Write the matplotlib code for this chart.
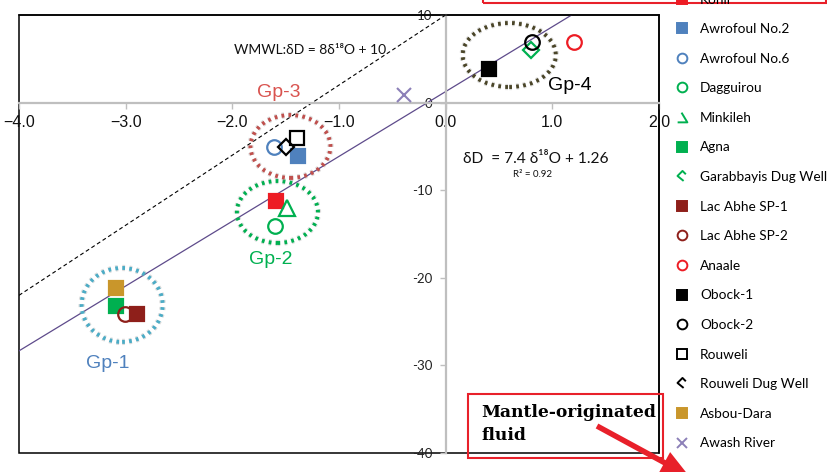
import matplotlib
matplotlib.use("Agg")
import numpy as np
import matplotlib.pyplot as plt
from matplotlib.patches import Ellipse, Rectangle, FancyArrow
from matplotlib.lines import Line2D
from matplotlib.path import Path
from matplotlib.transforms import IdentityTransform
import matplotlib.patheffects as pe

# ---- sample data: delta-18O (permil) and delta-D (permil) ----
sites = ["Kohil", "Awrofoul No.2", "Awrofoul No.6", "Dagguirou", "Minkileh", "Agna",
         "Garabbayis Dug Well", "Lac Abhe SP-1", "Lac Abhe SP-2", "Anaale", "Obock-1",
         "Obock-2", "Rouweli", "Rouweli Dug Well", "Asbou-Dara", "Awash River"]
d18o = [-1.59, -1.385, -1.606, -1.596, -1.488, -3.09, 0.804, -2.89, -3.005, 1.204,
        0.41, 0.807, -1.39, -1.495, -3.09, -0.394]
dD = [-11.2, -6.13, -5.07, -14.06, -12.07, -23.2, 5.97, -24.17, -24.13, 6.9,
      3.84, 6.9, -4.08, -5.07, -21.13, 0.87]

site_colors = ["#ED1C24", "#4F81BD", "#4F81BD", "#00B050", "#00B050", "#00B050",
               "#00B050", "#8E1F1A", "#8E1F1A", "#ED1C24", "#000000", "#000000",
               "#000000", "#000000", "#C9962B", "#8C80B8"]
site_markers = ["s", "s", "o", "o", "^", "s", "D", "s", "o", "o", "s", "o", "s", "D", "s", "x"]
site_filled = [True, True, False, False, False, True, False, True, False, False,
               True, False, False, False, True, False]

x_ticks = [-4, -3, -2, -1, 0, 1, 2]
x_tick_labels = ["\u22124.0", "\u22123.0", "\u22122.0", "\u22121.0", "0.0", "1.0", "2.0"]
y_ticks = [10, 0, -10, -20, -30, -40]
y_tick_labels = ["10", "0", "-10", "-20", "-30", "-40"]

# meteoric water lines: (slope, intercept)
wmwl = (8.0, 10.0)
local_fit = (7.4, 1.26)
local_r2 = 0.92

# sample groupings
group_names = ["Gp-1", "Gp-2", "Gp-3", "Gp-4"]
group_colors = ["#4BACC6", "#00B050", "#C0504D", "#4A4528"]
group_text_colors = ["#4F81BD", "#00B050", "#D9534F", "#000000"]
group_centers = [(-3.033, -23.1), (-1.577, -12.49), (-1.455, -5.01), (0.596, 5.43)]
group_sizes = [(0.76, 8.45), (0.76, 7.08), (0.75, 7.19), (0.873, 7.31)]
group_label_pos = [(-3.172, -30.33), (-1.637, -18.46), (-1.565, 0.605), (1.163, 1.44)]

W, H = 827, 472
fig = plt.figure(figsize=(W / 100, H / 100), dpi=100)
ax = fig.add_axes([19 / W, 1 - 453 / H, 640 / W, 438 / H])
ax.set_xlim(-4, 2)
ax.set_ylim(-40, 10)

# axis lines through the origin
grey = "#BFBFBF"
ax.spines["left"].set_position(("data", 0))
ax.spines["bottom"].set_position(("data", 0))
for s in ("left", "bottom"):
    ax.spines[s].set_color(grey)
    ax.spines[s].set_linewidth(1.6)
for s in ("top", "right"):
    ax.spines[s].set_color("black")
    ax.spines[s].set_linewidth(1.1)
ax.add_patch(Rectangle((0, 0), 1, 1, transform=ax.transAxes, fill=False,
                       ec="black", lw=1.1, clip_on=False, zorder=1))

ax.set_xticks(x_ticks)
ax.set_xticklabels(x_tick_labels, family=["Liberation Sans Narrow", "Liberation Sans"],
                   fontsize=11.5, color="#111111")
ax.set_yticks(y_ticks)
ax.set_yticklabels(y_tick_labels, family=["Lato", "DejaVu Sans"], fontsize=9.5,
                   color="#222222")
ax.tick_params(axis="x", direction="out", length=4, width=1, color=grey, pad=5)
ax.tick_params(axis="y", direction="out", length=4, width=1, color=grey, pad=5.5)

# water lines
xs = np.array([-4.0, 2.0])
ax.plot(xs, wmwl[0] * xs + wmwl[1], ls=(0, (3.5, 2.5)), color="black", lw=0.8, zorder=2)
ax.plot(xs, local_fit[0] * xs + local_fit[1], color="#5E4B8B", lw=0.9, zorder=2)

# group ellipses
for (cx, cy), (gw, gh), col in zip(group_centers, group_sizes, group_colors):
    e = Ellipse((cx, cy), gw, gh, fill=False, ec=col, lw=2.8, ls=(0, (0.7, 1.1)),
                zorder=3)
    e.set_path_effects([pe.Stroke(linewidth=4.5, foreground="#9a9a9a", alpha=0.35),
                        pe.Normal()])
    ax.add_patch(e)

for name, (tx, ty), col in zip(group_names, group_label_pos, group_text_colors):
    ax.text(tx, ty, name, color=col, fontsize=14, ha="center", va="baseline",
            family=["Liberation Sans", "DejaVu Sans"])

# samples
for x, y, c, m, f, n in zip(d18o, dD, site_colors, site_markers, site_filled, sites):
    ms = {"s": 9.4, "o": 10.5, "^": 11.5, "D": 7.9, "x": 9.5}[m]
    mew = 1.6 if m != "x" else 1.5
    ax.plot([x], [y], ls="none", marker=m, ms=ms, mew=mew,
            mfc=c if f else "none", mec=c, label=n, zorder=5)

# line equations
ax.text(-1.274, 5.55, "WMWL:\u03b4D = 8\u03b4\u00b9\u2078O + 10", ha="center", va="baseline",
        fontsize=10, family=["Lato", "DejaVu Sans"], color="#111111")
ax.text(0.166, -6.86,
        "\u03b4D  = %.1f \u03b4\u00b9\u2078O + %.2f" % local_fit, ha="left", va="baseline",
        fontsize=11.2, family=["Lato", "DejaVu Sans"], color="#111111")
ax.text(0.818, -8.46, "R\u00b2 = %.2f" % local_r2, ha="center", va="baseline",
        fontsize=7, family=["Lato", "DejaVu Sans"], color="#111111")

# legend with Excel-style handle glyphs
tri_cut = Path([(-0.2, 1.0), (1.0, -1.0), (-1.0, -1.0)],
               [Path.MOVETO, Path.LINETO, Path.LINETO])
dia_cut = Path([(0.2, -0.8), (-0.9, 0.1), (0.0, 1.0), (0.6, 0.4)],
               [Path.MOVETO, Path.LINETO, Path.LINETO, Path.LINETO])
handles = []
for c, m, f, n in zip(site_colors, site_markers, site_filled, sites):
    if m == "^":
        mk, ms = tri_cut, 7
    elif m == "D":
        mk, ms = dia_cut, 8
    else:
        mk, ms = m, {"s": 6.8, "o": 7.0, "x": 7.5}[m]
    handles.append(Line2D([], [], ls="none", marker=mk, ms=ms, mew=1.4,
                          mfc=c if f else "none", mec=c))
fig.legend(handles, sites, loc="upper left", bbox_to_anchor=(676.5 / W, 1 + 6.5 / H),
           bbox_transform=fig.transFigure, frameon=False, borderpad=0, borderaxespad=0,
           prop={"family": ["Lato", "DejaVu Sans"], "size": 9.8},
           labelspacing=1.292, handlelength=0.82, handletextpad=0.9)

# framed notes
red = "#E8202A"
fig.add_artist(Rectangle((483 / W, 1 - 3 / H), (826 - 483) / W, 0.2,
                         transform=fig.transFigure, fill=False, ec=red, lw=1.5))
fig.add_artist(Rectangle((468 / W, 1 - 458 / H), 195 / W, 64 / H,
                         transform=fig.transFigure, fill=False, ec=red, lw=1.5))
fig.text(481 / W, 1 - 417 / H, "Mantle-originated", fontsize=12.3, fontweight="bold",
         family=["DejaVu Serif"], va="baseline")
fig.text(481 / W, 1 - 440 / H, "fluid", fontsize=12.3, fontweight="bold",
         family=["DejaVu Serif"], va="baseline")
fig.add_artist(FancyArrow(597, H - 426, 92, -50, width=5.5, head_width=24,
                          head_length=28, length_includes_head=True,
                          transform=IdentityTransform(), color=red, lw=0))

fig.savefig("out.png", dpi=100)
